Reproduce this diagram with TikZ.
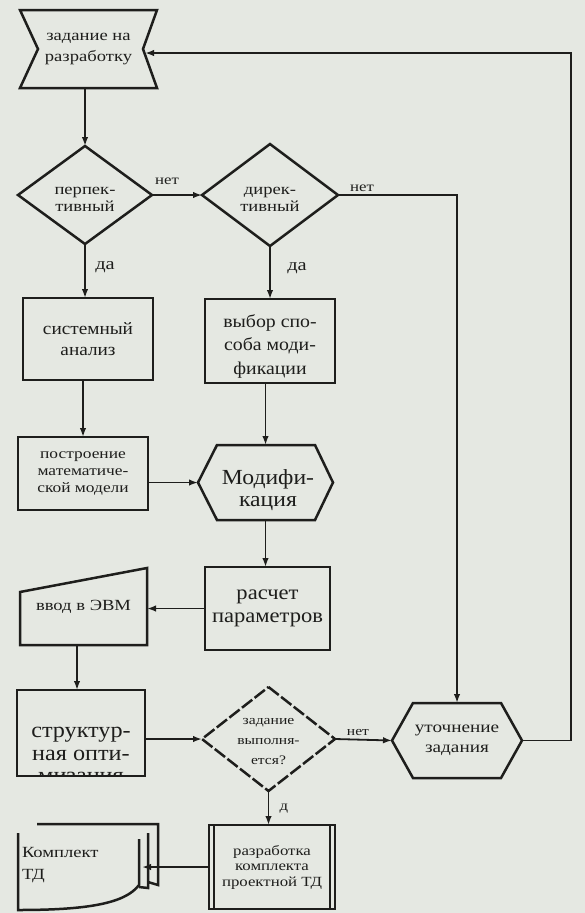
\documentclass[tikz,border=0pt]{standalone}
\usepackage{fontspec}
\setmainfont{Liberation Serif}[FakeStretch=1.2]
\newfontfamily\bigf{Liberation Serif}[FakeStretch=1.1]
\usetikzlibrary{arrows.meta,calc}
\definecolor{bg}{RGB}{229,232,226}
\definecolor{ink}{RGB}{30,30,28}
\begin{document}
\begin{tikzpicture}[x=1pt,y=-1pt,
  ghost/.style={rectangle,inner sep=0pt,outer sep=0pt,align=center,text=ink},
  box/.style={ghost,draw=ink,line width=2.5pt},
  shp/.style={draw=ink,line width=2.5pt,line join=miter},
  conn/.style={draw=ink,line width=1.8pt,-{Latex[length=9pt,width=6.5pt]}},
  lbl/.style={text=ink,inner sep=0pt}]
\fill[bg] (0,0) rectangle (585,913);
\useasboundingbox (0,0) rectangle (585,913);

% task
\node[ghost,minimum width=137pt,minimum height=78pt,font=\fontsize{15.5}{21}\selectfont] (task) at (88.5,49) {задание на\\разработку};
\draw[shp] (task.north west) -- (task.north east) -- ([xshift=-14pt]task.east) -- (task.south east) -- (task.south west) -- ([xshift=18pt]task.west) -- cycle;

% decisions
\node[ghost,minimum width=134pt,minimum height=98pt] (d1) at (85,195) {};
\draw[shp] (d1.north) -- (d1.east) -- (d1.south) -- (d1.west) -- cycle;
\node[ghost,font=\fontsize{15.5}{17}\selectfont] (d1T) at (85,199) {перпек-\\тивный};
\node[ghost,minimum width=136pt,minimum height=102pt] (d2) at (270,195) {};
\draw[shp] (d2.north) -- (d2.east) -- (d2.south) -- (d2.west) -- cycle;
\node[ghost,font=\fontsize{15.5}{17}\selectfont] (d2T) at (270,199) {дирек-\\тивный};

% system analysis
\node[box,minimum width=130pt,minimum height=82pt,font=\bigf\fontsize{17.5}{21}\selectfont] (sys) at (88,339) {системный\\анализ};
% selection
\node[box,minimum width=130pt,minimum height=84pt] (sel) at (270,341) {};
\node[ghost,font=\bigf\fontsize{18}{23.5}\selectfont] (selT) at (270,346) {выбор спо-\\соба моди-\\фикации};

% math model
\node[box,minimum width=130pt,minimum height=73pt,font=\fontsize{14.5}{17}\selectfont] (math) at (83,473.5) {построение\\математиче-\\ской модели};

% modification
\node[ghost,minimum width=135pt,minimum height=75pt] (mod) at (265.5,482.5) {};
\draw[shp] (mod.west) -- ([xshift=19pt]mod.north west) -- ([xshift=-18pt]mod.north east) -- (mod.east) -- ([xshift=-18pt]mod.south east) -- ([xshift=19pt]mod.south west) -- cycle;
\node[ghost,font=\bigf\fontsize{21.5}{22.5}\selectfont] (modT) at (268,490) {Модифи-\\кация};

% calc
\node[box,minimum width=125pt,minimum height=83pt,font=\bigf\fontsize{20.5}{23}\selectfont] (calc) at (267.5,608.5) {расчет\\параметров};

% input
\node[ghost,minimum width=127pt,minimum height=77pt,font=\fontsize{15.5}{18}\selectfont] (input) at (83.5,606.5) {\raisebox{-8pt}{ввод в ЭВМ}};
\draw[shp] (input.south west) -- ([yshift=-24pt]input.north west) -- (input.north east) -- (input.south east) -- cycle;

% structural optimisation
\node[box,minimum width=128pt,minimum height=86pt] (struct) at (81,733) {};
\begin{scope}
  \clip (struct.north west) rectangle (struct.south east);
  \node[ghost,font=\bigf\fontsize{22}{22.5}\selectfont] (structT) at (81,757) {структур-\\ная опти-\\мизация};
\end{scope}

% decision 3
\node[ghost,minimum width=133pt,minimum height=104pt] (d3) at (268.5,739) {};
\draw[shp,dash pattern=on 13pt off 3pt] (d3.north) -- (d3.east) -- (d3.south) -- (d3.west) -- cycle;
\node[ghost,font=\fontsize{13}{20}\selectfont] (d3T) at (268.5,742) {задание\\выполня-\\ется?};

% refinement
\node[ghost,minimum width=130pt,minimum height=75pt,font=\fontsize{16}{20}\selectfont] (ref) at (457,740.5) {уточнение\\задания};
\draw[shp] (ref.west) -- ([xshift=21pt]ref.north west) -- ([xshift=-21pt]ref.north east) -- (ref.east) -- ([xshift=-21pt]ref.south east) -- ([xshift=21pt]ref.south west) -- cycle;

% development of documentation
\node[box,minimum width=126pt,minimum height=84pt,font=\fontsize{14}{15.5}\selectfont] (dev) at (272,867) {разработка\\комплекта\\проектной ТД};
\draw[shp] ([xshift=5pt]dev.north west) -- ([xshift=5pt]dev.south west);
\draw[shp] ([xshift=-5pt]dev.north east) -- ([xshift=-5pt]dev.south east);

% documents
\node[ghost,minimum width=124pt,minimum height=66pt,text width=116pt,align=left,font=\fontsize{15.5}{22}\selectfont] (doc) at (80,865) {Комплект\\ТД};
\draw[shp] (18,833) -- (18,910) .. controls (85,910) and (125,904) .. (139,885) -- (139,839);
\draw[shp] (148,833) -- (148,888) -- (139,887);
\draw[shp] (37,824) -- (158,824) -- (158,885) -- (148,882);

% connectors
\draw[conn] (d1.north |- task.south) -- (d1.north);
\draw[conn] (d1.east) -- (d2.west);
\node[lbl,font=\fontsize{14}{14}\selectfont] at (167,181) {нет};
\draw[conn] (d2.east) -| (ref.north);
\node[lbl,font=\fontsize{14}{14}\selectfont] at (362,188) {нет};
\draw[conn] (d1.south) -- (d1.south |- sys.north);
\node[lbl,font=\fontsize{17}{17}\selectfont] at (105,267) {да};
\draw[conn] (d2.south) -- (d2.south |- sel.north);
\node[lbl,font=\fontsize{17}{17}\selectfont] at (297,268) {да};
\draw[conn] (sys.south -| math.north) -- (math.north);
\draw[conn] (math.east |- mod.west) -- (mod.west);
\draw[conn] (sel.south -| mod.north) -- (mod.north);
\draw[conn] (mod.south) -- (mod.south |- calc.north);
\draw[conn] (calc.west) -- (calc.west -| input.east);
\draw[conn] (input.south -| 77,0) -- (struct.north -| 77,0);
\draw[conn] (struct.east |- d3.west) -- (d3.west);
\draw[conn] (d3.east) -- (ref.west);
\node[lbl,font=\fontsize{13}{13}\selectfont] at (358,732) {нет};
\draw[conn] (d3.south) -- (d3.south |- dev.north);
\node[lbl,font=\fontsize{14}{14}\selectfont] at (284,809) {д};
\draw[conn] (ref.east) -- (571,0 |- ref.east) -- (571,53) -- ([xshift=-12pt]task.east |- 0,53);
\draw[conn] (dev.west) -- (dev.west -| doc.east);
\end{tikzpicture}
\end{document}
